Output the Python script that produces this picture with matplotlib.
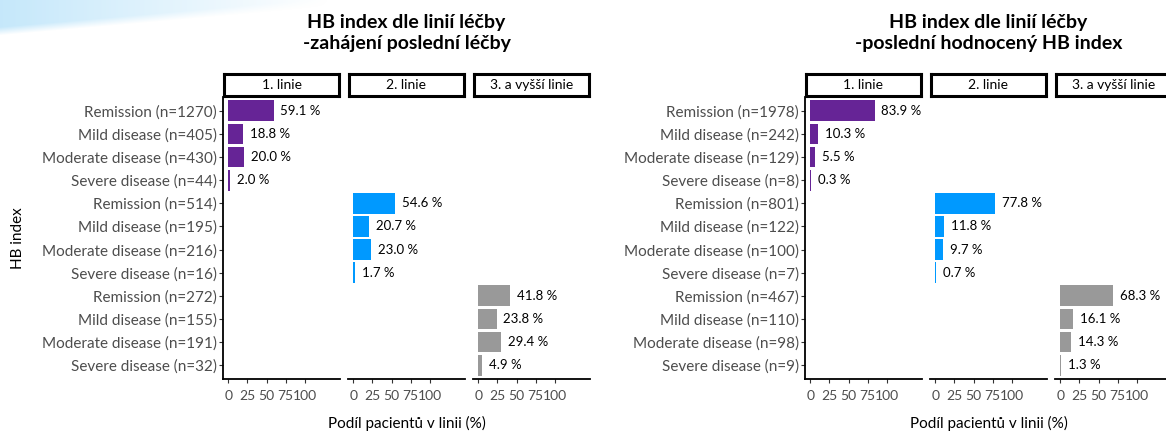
import numpy as np
import matplotlib
matplotlib.use("Agg")
import matplotlib.pyplot as plt

plt.rcParams['font.family'] = ['Lato', 'DejaVu Sans']

# Data
categories = ["Remission", "Mild disease", "Moderate disease", "Severe disease"]
lines = ["1. linie", "2. linie", "3. a vyšší linie"]
colors = ["#662496", "#0099FF", "#999999"]

# chart 1: zahájení poslední léčby
left_n = [[1270, 405, 430, 44], [514, 195, 216, 16], [272, 155, 191, 32]]
left_pct = [[59.1, 18.8, 20.0, 2.0], [54.6, 20.7, 23.0, 1.7], [41.8, 23.8, 29.4, 4.9]]

# chart 2: poslední hodnocený HB index
right_n = [[1978, 242, 129, 8], [801, 122, 100, 7], [467, 110, 98, 9]]
right_pct = [[83.9, 10.3, 5.5, 0.3], [77.8, 11.8, 9.7, 0.7], [68.3, 16.1, 14.3, 1.3]]

xticks = [0, 25, 50, 75, 100]

W, H = 1166, 432
fig = plt.figure(figsize=(W / 100, H / 100), dpi=100)

# light blue slide decoration in the top-left corner
deco = fig.add_axes([0, 1 - 42 / H, 330 / W, 42 / H])
gx = np.linspace(0, 1, 330)
gy = np.linspace(0, 1, 42)
GX, GY = np.meshgrid(gx, gy)
edge = 0.85 - 0.7 * GX
alpha = np.clip(0.75 - 0.75 * GX, 0, 1) * np.clip((edge - GY) * 5, 0, 1)
rgba = np.zeros((42, 330, 4))
rgba[..., 0] = 0.70
rgba[..., 1] = 0.88
rgba[..., 2] = 0.98
rgba[..., 3] = alpha
deco.imshow(rgba, aspect='auto', extent=[0, 1, 0, 1], origin='upper')
deco.axis('off')


def px_axes(x0, x1, y0, y1):
    return fig.add_axes([x0 / W, 1 - y1 / H, (x1 - x0) / W, (y1 - y0) / H])


def draw_chart(x_start, n_vals, pct_vals, title):
    pw, gap = 117, 8
    top, bottom = 97, 379
    labels = []
    for n_row in n_vals:
        for cat, n in zip(categories, n_row):
            labels.append(f"{cat} (n={n})")
    rows = np.arange(len(labels))

    for j in range(3):
        x0 = x_start + j * (pw + gap)
        ax = px_axes(x0, x0 + pw, top, bottom)
        pos = rows[4 * j:4 * j + 4]
        ax.barh(pos, pct_vals[j], height=0.9, color=colors[j])
        for p, v in zip(pos, pct_vals[j]):
            ax.annotate(f"{v:.1f} %", (v, p), xytext=(5, 0), textcoords='offset points',
                        va='center', ha='left', fontsize=9.5, color='black')
        ax.set_xlim(-7, 146)
        ax.set_ylim(11.6, -0.6)
        ax.set_xticks(xticks)
        ax.set_xticklabels([str(t) for t in xticks], fontsize=10, color='#4D4D4D')
        ax.tick_params(axis='x', length=3, width=0.8, pad=5, color='#333333')
        for s in ['top', 'right']:
            ax.spines[s].set_visible(False)
        ax.spines['bottom'].set_linewidth(1.3)
        if j == 0:
            ax.set_yticks(rows)
            ax.set_yticklabels(labels, fontsize=11, color='#4D4D4D')
            ax.tick_params(axis='y', length=3, width=0.8, pad=1.5, color='#333333')
            ax.spines['left'].set_linewidth(1.3)
        else:
            ax.set_yticks([])
            ax.spines['left'].set_visible(False)
        ax.set_facecolor('none')

        # strip
        st = px_axes(x0 + 1, x0 + pw - 1, 74, 96)
        st.set_xticks([])
        st.set_yticks([])
        for s in st.spines.values():
            s.set_linewidth(2.2)
        st.text(0.5, 0.5, lines[j], ha='center', va='center', fontsize=10)

    cx = (x_start + x_start + 3 * pw + 2 * gap) / 2
    fig.text(cx / W, 1 - 33 / H, title, ha='center', va='center', fontsize=14,
             fontweight='bold', linespacing=1.3)
    fig.text(cx / W, 1 - 423 / H, "Podíl pacientů v linii (%)", ha='center', va='center',
             fontsize=11)


draw_chart(223, left_n, left_pct, "HB index dle linií léčby\n-zahájení poslední léčby")
draw_chart(805, right_n, right_pct, "HB index dle linií léčby\n-poslední hodnocený HB index")

fig.text(18 / W, 1 - 238 / H, "HB index", rotation=90, ha='center', va='center', fontsize=11)

plt.savefig("out.png", dpi=100)
plt.close()
